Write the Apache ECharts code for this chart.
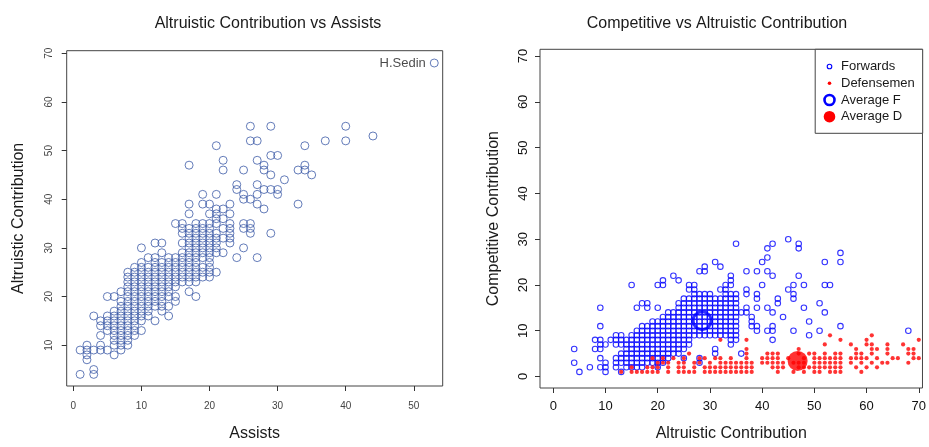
<!DOCTYPE html>
<html>
<head>
<meta charset="utf-8">
<script src="https://cdn.jsdelivr.net/npm/echarts@6/dist/echarts.min.js"></script>
<style>
html,body{margin:0;padding:0;background:#fff;}
#chart{width:929px;height:447px;}
</style>
</head>
<body>
<div id="chart"></div>
<script>
// ---- Data ----
const leftTitle = 'Altruistic Contribution vs Assists';
const rightTitle = 'Competitive vs Altruistic Contribution';
const leftXTicks = [0, 10, 20, 30, 40, 50];
const leftYTicks = [10, 20, 30, 40, 50, 60, 70];
const rightXTicks = [0, 10, 20, 30, 40, 50, 60, 70];
const rightYTicks = [0, 10, 20, 30, 40, 50, 60, 70];

// [assists, altruistic contribution]
const assistsVsAltruistic = [
[26,55],[29,55],[40,55],[44,53],[26,52],[27,52],[37,52],[40,52],[21,51],[34,51],
[29,49],[30,49],[22,48],[27,48],[17,47],[28,47],[34,47],
[22,46],[25,46],[28,46],[33,46],[34,46],[29,45],[35,45],[31,44],[24,43],[27,43],
[24,42],[28,42],[29,42],[30,42],[19,41],[21,41],[25,41],[27,41],[30,41],[25,40],[26,40],
[17,39],[19,39],[20,39],[23,39],[27,39],[33,39],[21,38],[22,38],[28,38],
[17,37],[20,37],[21,37],[23,37],[21,36],[22,36],
[15,35],[16,35],[18,35],[19,35],[20,35],[21,35],[23,35],[25,35],[26,35],
[16,34],[17,34],[18,34],[19,34],[20,34],[22,34],[23,34],[25,34],[26,34],
[16,33],[17,33],[18,33],[19,33],[20,33],[21,33],[23,33],[26,33],[29,33],
[17,32],[18,32],[19,32],[20,32],[21,32],[22,32],[23,32],
[12,31],[13,31],[16,31],[17,31],[18,31],[19,31],[20,31],[21,31],[23,31],
[10,30],[17,30],[18,30],[19,30],[20,30],[21,30],[25,30],
[13,29],[16,29],[17,29],[18,29],[19,29],[20,29],[21,29],[22,29],
[11,28],[12,28],[14,28],[15,28],[16,28],[17,28],[18,28],[19,28],[20,28],[24,28],[27,28],
[10,27],[12,27],[13,27],[14,27],[15,27],[16,27],[17,27],[18,27],[20,27],
[9,26],[10,26],[11,26],[12,26],[13,26],[14,26],[15,26],[16,26],[17,26],[18,26],[19,26],[20,26],
[8,25],[9,25],[10,25],[11,25],[12,25],[13,25],[14,25],[15,25],[16,25],[17,25],[18,25],[19,25],[20,25],[21,25],
[8,24],[9,24],[10,24],[11,24],[12,24],[13,24],[14,24],[15,24],[16,24],[17,24],[18,24],[19,24],[20,24],
[8,23],[9,23],[10,23],[11,23],[12,23],[13,23],[14,23],[15,23],[16,23],[17,23],[18,23],
[8,22],[9,22],[10,22],[11,22],[12,22],[13,22],[14,22],[15,22],
[7,21],[8,21],[9,21],[10,21],[11,21],[12,21],[13,21],[14,21],[17,21],
[5,20],[6,20],[8,20],[9,20],[10,20],[11,20],[12,20],[13,20],[14,20],[15,20],[18,20],
[7,19],[8,19],[9,19],[10,19],[11,19],[12,19],[13,19],[15,19],
[7,18],[8,18],[9,18],[10,18],[11,18],[12,18],[13,18],[14,18],
[6,17],[7,17],[8,17],[9,17],[10,17],[11,17],[13,17],
[3,16],[5,16],[6,16],[7,16],[8,16],[9,16],[10,16],[11,16],[14,16],
[4,15],[5,15],[6,15],[7,15],[8,15],[9,15],[10,15],[12,15],
[4,14],[5,14],[6,14],[7,14],[8,14],[9,14],
[5,13],[6,13],[7,13],[8,13],[9,13],[10,13],
[4,12],[6,12],[7,12],[8,12],[9,12],
[6,11],[7,11],[8,11],
[2,10],[4,10],[6,10],[7,10],[8,10],
[1,9],[2,9],[3,9],[4,9],[5,9],[7,9],
[2,8],[6,8],[2,7],[3,5],[1,4],[3,4]
];
const sedinName = 'H.Sedin';
const sedinPoint = [53, 68];

// [altruistic, competitive] for forwards
const forwards = [
[4,3],[4,6],[5,1],[7,2],[8,6],[8,8],
[9,2],[9,4],[9,6],[9,7],[9,8],[9,11],[9,15],
[10,1],[10,2],[10,3],[10,7],[11,8],
[12,2],[12,3],[12,4],[12,7],[12,8],[12,9],
[13,1],[13,3],[13,4],[13,5],[13,7],[13,8],[13,9],
[14,2],[14,3],[14,4],[14,5],[14,6],[14,7],[14,8],
[15,2],[15,3],[15,4],[15,5],[15,6],[15,7],[15,8],[15,9],[15,20],
[16,2],[16,3],[16,4],[16,5],[16,6],[16,7],[16,8],[16,9],[16,10],[16,15],
[17,2],[17,3],[17,4],[17,5],[17,6],[17,7],[17,8],[17,9],[17,10],[17,11],[17,16],
[18,3],[18,4],[18,5],[18,6],[18,7],[18,8],[18,9],[18,10],[18,11],[18,15],[18,16],
[19,3],[19,4],[19,5],[19,6],[19,7],[19,8],[19,9],[19,10],[19,11],[19,12],
[20,2],[20,3],[20,4],[20,5],[20,6],[20,7],[20,8],[20,9],[20,10],[20,11],[20,12],[20,15],[20,20],
[21,3],[21,4],[21,5],[21,6],[21,7],[21,8],[21,9],[21,10],[21,11],[21,12],[21,13],[21,20],[21,21],
[22,4],[22,5],[22,6],[22,7],[22,8],[22,9],[22,10],[22,11],[22,12],[22,13],[22,14],
[23,5],[23,6],[23,7],[23,8],[23,9],[23,10],[23,11],[23,12],[23,13],[23,14],[23,22],
[24,5],[24,6],[24,7],[24,8],[24,9],[24,10],[24,11],[24,12],[24,13],[24,14],[24,15],[24,16],[24,21],
[25,4],[25,6],[25,7],[25,8],[25,9],[25,10],[25,11],[25,12],[25,13],[25,14],[25,15],[25,16],[25,17],
[26,7],[26,8],[26,9],[26,10],[26,11],[26,12],[26,13],[26,14],[26,15],[26,16],[26,17],[26,19],[26,20],
[27,9],[27,10],[27,11],[27,12],[27,13],[27,14],[27,15],[27,16],[27,17],[27,18],[27,19],[27,20],
[28,3],[28,4],[28,9],[28,10],[28,11],[28,12],[28,13],[28,14],[28,15],[28,16],[28,17],[28,18],[28,23],
[29,9],[29,10],[29,11],[29,12],[29,13],[29,14],[29,15],[29,16],[29,17],[29,18],[29,23],[29,24],
[30,9],[30,10],[30,11],[30,12],[30,13],[30,14],[30,15],[30,16],[30,17],[30,18],
[31,5],[31,6],[31,9],[31,10],[31,11],[31,12],[31,13],[31,14],[31,15],[31,16],[31,17],[31,25],
[32,9],[32,10],[32,11],[32,12],[32,13],[32,14],[32,15],[32,16],[32,17],[32,19],[32,24],
[33,9],[33,10],[33,11],[33,12],[33,13],[33,14],[33,15],[33,16],[33,17],[33,18],[33,19],[33,20],
[34,7],[34,8],[34,9],[34,10],[34,11],[34,12],[34,13],[34,14],[34,15],[34,16],[34,17],[34,18],[34,20],[34,21],[34,22],
[35,8],[35,9],[35,10],[35,11],[35,12],[35,13],[35,14],[35,15],[35,16],[35,17],[35,18],[35,29],
[36,5],[36,14],[37,14],[37,15],[37,18],[37,19],[37,23],
[38,11],[38,12],[38,13],[39,10],[39,11],[39,15],[39,17],[39,18],[39,23],
[40,20],[40,25],[41,10],[41,15],[41,23],[41,26],[41,28],
[42,8],[42,10],[42,11],[42,14],[42,22],[42,29],[43,16],[43,17],[44,13],
[45,19],[45,30],[46,10],[46,17],[46,18],[46,20],[47,22],[47,28],[47,29],
[48,15],[48,20],[49,9],[49,12],[51,10],[51,16],[52,14],[52,20],[52,25],[53,20],
[55,11],[55,25],[55,27],[68,10]
];

// [altruistic, competitive] for defensemen
const defensemen = [
[13,1],[15,1],[16,1],[17,1],[18,1],[19,1],[20,1],[22,1],[24,1],[25,1],[26,1],[27,1],[29,1],[30,1],[31,1],[32,1],
[33,1],[34,1],[35,1],[36,1],[37,1],[38,1],[43,1],[46,1],[48,1],[50,1],[51,1],[53,1],[54,1],[55,1],[59,1],
[15,2],[18,2],[19,2],[20,2],[22,2],[24,2],[25,2],[27,2],[29,2],[30,2],[31,2],[32,2],[33,2],[34,2],[35,2],[36,2],
[37,2],[38,2],[42,2],[43,2],[44,2],[47,2],[48,2],[49,2],[50,2],[51,2],[52,2],[53,2],[54,2],[55,2],[58,2],[60,2],[62,2],
[20,3],[21,3],[22,3],[24,3],[25,3],[27,3],[28,3],[30,3],[32,3],[33,3],[34,3],[35,3],[36,3],[37,3],[38,3],[40,3],
[41,3],[42,3],[43,3],[44,3],[46,3],[47,3],[48,3],[50,3],[51,3],[52,3],[53,3],[54,3],[55,3],[57,3],[59,3],[61,3],
[63,3],[64,3],[68,3],
[19,4],[21,4],[23,4],[25,4],[28,4],[29,4],[31,4],[32,4],[34,4],[37,4],[40,4],[41,4],[42,4],[43,4],[45,4],[48,4],
[50,4],[51,4],[52,4],[53,4],[54,4],[55,4],[57,4],[58,4],[59,4],[60,4],[62,4],[65,4],[66,4],[69,4],[70,4],
[26,5],[37,5],[41,5],[42,5],[43,5],[47,5],[49,5],[50,5],[52,5],[54,5],[55,5],[58,5],[59,5],[61,5],[64,5],[68,5],[69,5],
[37,6],[47,6],[58,6],[61,6],[62,6],[64,6],[68,6],[69,6],
[52,7],[57,7],[60,7],[61,7],[64,7],[67,7],
[32,8],[37,8],[55,8],[60,8],[70,8],
[53,9],[61,9]
];
const averageF = [28.5, 12.2];
const averageD = [46.8, 3.4];
const legendLabels = ['Forwards', 'Defensemen', 'Average F', 'Average D'];

// ---- Chart ----
const FONT = '"Liberation Sans", Arial, Helvetica, sans-serif';
const chart = echarts.init(document.getElementById('chart'), null, {renderer: 'canvas'});

function axis(opts) {
  return {
    type: 'value',
    gridIndex: opts.grid,
    min: opts.min, max: opts.max,
    name: opts.name, nameLocation: 'middle', nameGap: opts.nameGap,
    nameTextStyle: {fontSize: 16, color: '#1a1a1a', fontFamily: FONT},
    axisLine: {show: false, onZero: false},
    splitLine: {show: false},
    axisTick: {show: true, inside: false, length: 5, lineStyle: {color: '#333', width: 1}, customValues: opts.ticks},
    axisLabel: {show: true, customValues: opts.ticks, fontSize: opts.fontSize, color: opts.labelColor,
      margin: opts.margin, rotate: opts.rotate || 0, fontFamily: FONT}
  };
}

const option = {
  animation: false,
  backgroundColor: '#fff',
  textStyle: {fontFamily: FONT},
  title: [
    {text: leftTitle, left: 263, top: 11, textAlign: 'center',
     textStyle: {fontSize: 16, fontWeight: 'normal', color: '#1a1a1a', fontFamily: FONT}},
    {text: rightTitle, left: 712, top: 11, textAlign: 'center',
     textStyle: {fontSize: 16, fontWeight: 'normal', color: '#1a1a1a', fontFamily: FONT}}
  ],
  grid: [
    {left: 66.7, top: 50.7, width: 376, height: 340, show: true, borderColor: '#444', borderWidth: 1, backgroundColor: 'transparent', containLabel: false},
    {left: 540, top: 49.3, width: 382.7, height: 343.4, show: true, borderColor: '#444', borderWidth: 1, backgroundColor: 'transparent', containLabel: false}
  ],
  xAxis: [
    axis({grid: 0, min: -0.97, max: 54.24, ticks: leftXTicks, name: 'Assists', nameGap: 40, fontSize: 10, labelColor: '#444', margin: 15}),
    axis({grid: 1, min: -2.55, max: 70.71, ticks: rightXTicks, name: 'Altruistic Contribution', nameGap: 38, fontSize: 13, labelColor: '#111', margin: 12})
  ],
  yAxis: [
    axis({grid: 0, min: 1.61, max: 70.53, ticks: leftYTicks, name: 'Altruistic Contribution', nameGap: 40, fontSize: 10, labelColor: '#444', margin: 12, rotate: 90}),
    axis({grid: 1, min: -2.52, max: 71.49, ticks: rightYTicks, name: 'Competitive Contribution', nameGap: 38, fontSize: 13, labelColor: '#111', margin: 10, rotate: 90})
  ],
  series: [
    {
      name: 'Altruistic vs Assists', type: 'scatter', xAxisIndex: 0, yAxisIndex: 0,
      symbol: 'circle', symbolSize: 8,
      itemStyle: {color: 'rgba(0,0,0,0)', borderColor: '#3d5ba8', borderWidth: 1},
      data: assistsVsAltruistic
    },
    {
      name: sedinName, type: 'scatter', xAxisIndex: 0, yAxisIndex: 0,
      symbol: 'circle', symbolSize: 8,
      itemStyle: {color: 'rgba(0,0,0,0)', borderColor: '#3d5ba8', borderWidth: 1},
      label: {show: true, position: 'left', distance: 4, formatter: sedinName, fontSize: 13, color: '#1a1a1a', fontFamily: FONT},
      data: [sedinPoint]
    },
    {
      name: legendLabels[0], type: 'scatter', xAxisIndex: 1, yAxisIndex: 1,
      symbol: 'circle', symbolSize: 5.5,
      itemStyle: {color: 'rgba(0,0,0,0)', borderColor: '#0000ff', borderWidth: 1.1},
      data: forwards
    },
    {
      name: legendLabels[1], type: 'scatter', xAxisIndex: 1, yAxisIndex: 1,
      symbol: 'circle', symbolSize: 4.2,
      itemStyle: {color: '#ff0000'},
      data: defensemen
    },
    {
      name: legendLabels[2], type: 'scatter', xAxisIndex: 1, yAxisIndex: 1,
      symbol: 'circle', symbolSize: 18,
      itemStyle: {color: 'rgba(0,0,0,0)', borderColor: '#0000ff', borderWidth: 3},
      data: [averageF]
    },
    {
      name: legendLabels[3], type: 'scatter', xAxisIndex: 1, yAxisIndex: 1,
      symbol: 'circle', symbolSize: 20,
      itemStyle: {color: '#ff0000'},
      data: [averageD]
    }
  ],
  graphic: [
    {type: 'rect', shape: {x: 815.2, y: 49.3, width: 107.5, height: 84}, style: {fill: '#fff', stroke: '#444', lineWidth: 1}, z: 100},
    {type: 'circle', shape: {cx: 829.5, cy: 66.5, r: 2.3}, style: {fill: 'none', stroke: '#0000ff', lineWidth: 1.1}, z: 101},
    {type: 'circle', shape: {cx: 829.5, cy: 83.2, r: 1.8}, style: {fill: '#ff0000'}, z: 101},
    {type: 'circle', shape: {cx: 829.5, cy: 100, r: 5}, style: {fill: 'none', stroke: '#0000ff', lineWidth: 2.6}, z: 101},
    {type: 'circle', shape: {cx: 829.5, cy: 116.7, r: 5.8}, style: {fill: '#ff0000'}, z: 101},
    {type: 'text', x: 841, y: 66.5, style: {text: legendLabels[0], fontSize: 13, fill: '#1a1a1a', font: '13px ' + FONT, verticalAlign: 'middle'}, z: 101},
    {type: 'text', x: 841, y: 83.2, style: {text: legendLabels[1], fontSize: 13, fill: '#1a1a1a', font: '13px ' + FONT, verticalAlign: 'middle'}, z: 101},
    {type: 'text', x: 841, y: 100, style: {text: legendLabels[2], fontSize: 13, fill: '#1a1a1a', font: '13px ' + FONT, verticalAlign: 'middle'}, z: 101},
    {type: 'text', x: 841, y: 116.7, style: {text: legendLabels[3], fontSize: 13, fill: '#1a1a1a', font: '13px ' + FONT, verticalAlign: 'middle'}, z: 101}
  ]
};
chart.setOption(option);
</script>
</body>
</html>
